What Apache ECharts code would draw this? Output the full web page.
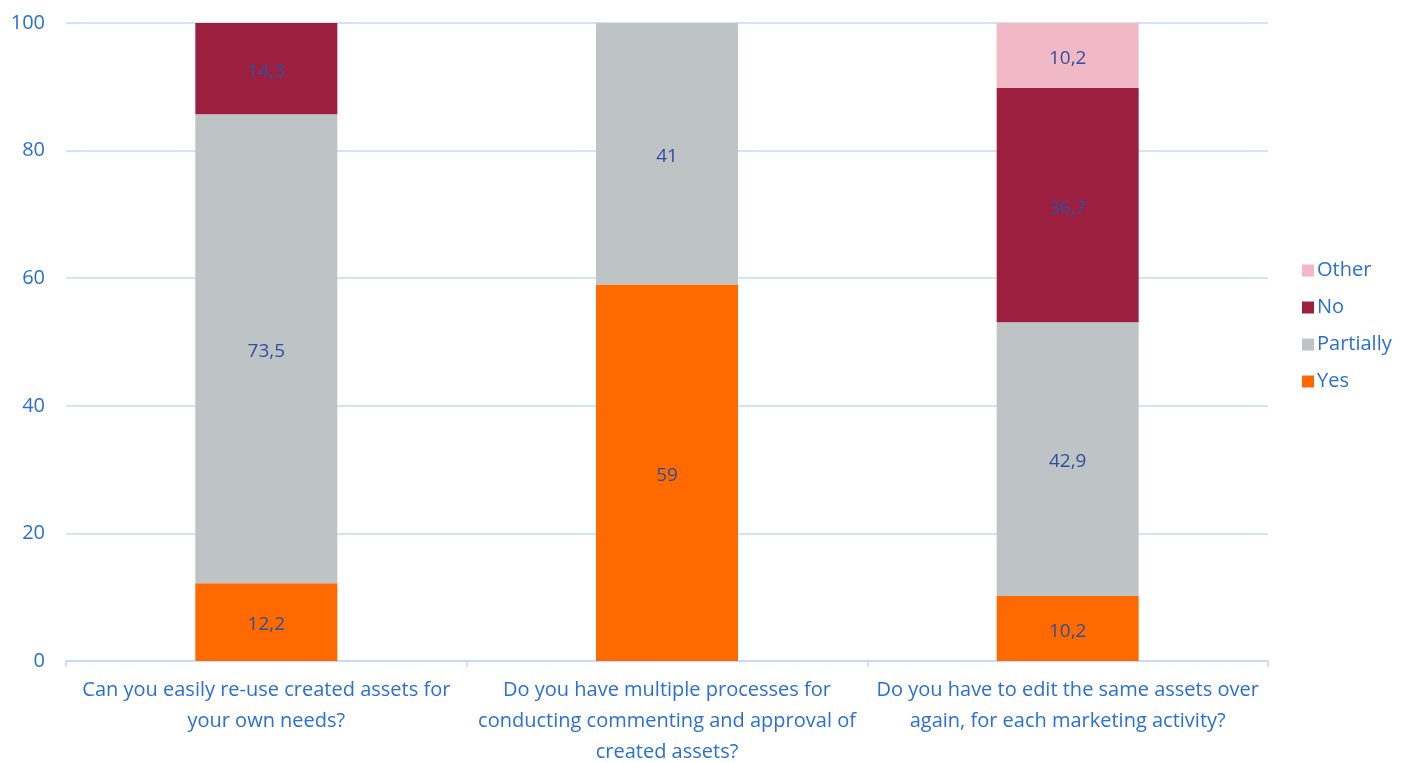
<!DOCTYPE html>
<html><head><meta charset="utf-8">
<script src="https://cdn.jsdelivr.net/npm/echarts@6/dist/echarts.min.js"></script>
<style>html,body{margin:0;padding:0;background:#fff;overflow:hidden}#c{width:1407px;height:763px}</style>
</head><body><div id="c"></div>
<script>
const categories = [
  "Can you easily re-use created assets for\nyour own needs?",
  "Do you have multiple processes for\nconducting commenting and approval of\ncreated assets?",
  "Do you have to edit the same assets over\nagain, for each marketing activity?"
];
const seriesNames = ["Yes", "Partially", "No", "Other"];
const yesValues = [12.2, 59, 10.2];
const partiallyValues = [73.5, 41, 42.9];
const noValues = [14.3, null, 36.7];
const otherValues = [null, null, 10.2];
const legendOrder = ["Other", "No", "Partially", "Yes"];
const yTicks = [0, 20, 40, 60, 80, 100];

const colors = {Yes: "#FF6A00", Partially: "#BEC3C5", No: "#9C1F40", Other: "#F1B9C6"};
const valuesBy = {Yes: yesValues, Partially: partiallyValues, No: noValues, Other: otherValues};
const font = "'Open Sans', sans-serif";
const chart = echarts.init(document.getElementById('c'));
chart.setOption({
  animation: false,
  grid: {left: 66, right: 139, top: 23, bottom: 102, containLabel: false, outerBoundsMode: 'none'},
  legend: {
    orient: 'vertical', left: 1297, top: 252,
    itemWidth: 12, itemHeight: 12, itemGap: 10,
    icon: 'rect',
    data: legendOrder,
    textStyle: {color: '#2A6FD6', fontSize: 20, fontFamily: font, padding: [0,0,0,-2], lineHeight: 27}
  },
  xAxis: {
    type: 'category', data: categories,
    axisLine: {lineStyle: {color: '#C5D8F3', width: 1.5}},
    axisTick: {show: true, alignWithLabel: false, length: 6, lineStyle: {color: '#C5D8F3', width: 1.5}},
    axisLabel: {color: '#2A6FD6', fontSize: 20, fontFamily: font, lineHeight: 31, margin: 14, interval: 0}
  },
  yAxis: {
    type: 'value', min: 0, max: 100, interval: 20,
    axisLine: {show: false}, axisTick: {show: false},
    splitLine: {lineStyle: {color: '#C5D8F3', width: 1.5}},
    axisLabel: {color: '#2A6FD6', fontSize: 20, fontFamily: font, margin: 21,
      formatter: v => yTicks.includes(v) ? String(v) : ''}
  },
  series: seriesNames.map(n => ({
    name: n, type: 'bar', stack: 'total', barWidth: 142,
    itemStyle: {color: colors[n]},
    data: valuesBy[n],
    label: {show: true, position: 'inside', color: '#2D4F9F', fontSize: 19, fontFamily: font, offset: [0, 3],
      formatter: p => p.value == null ? '' : String(p.value).replace('.', ',')}
  }))
});
</script></body></html>
